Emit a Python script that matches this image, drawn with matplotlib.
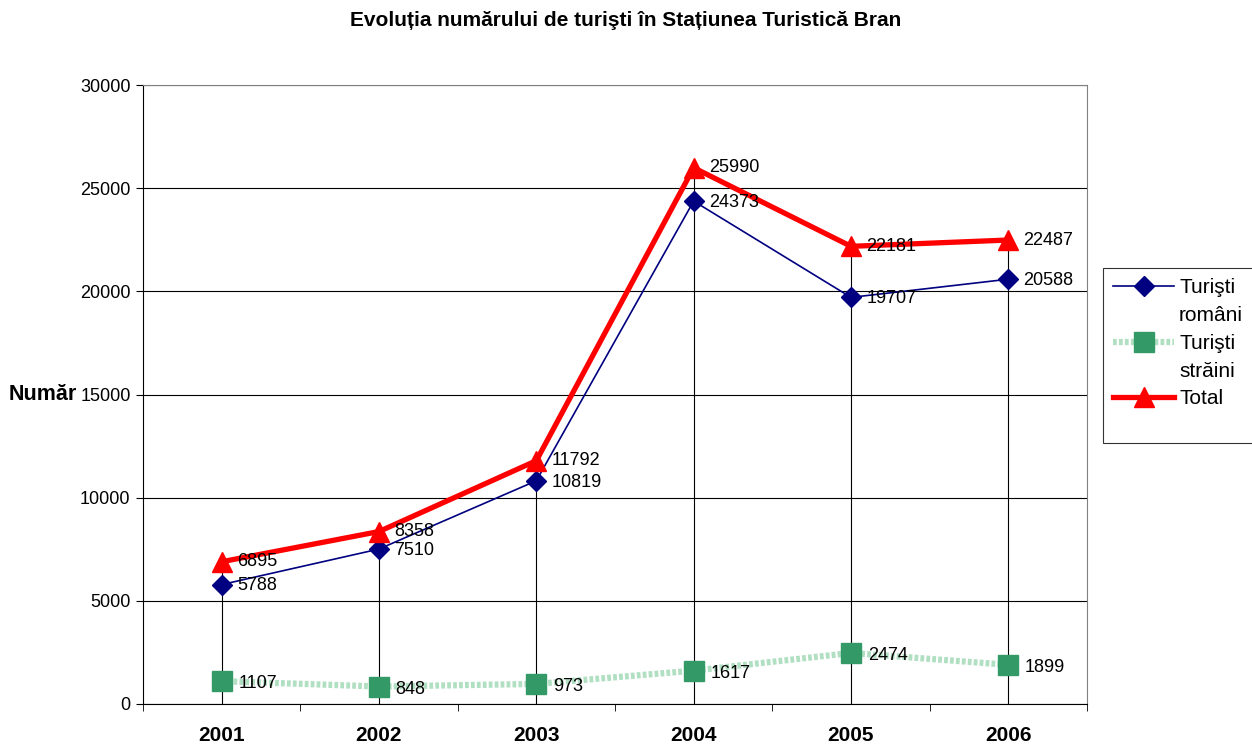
import numpy as np
import matplotlib
matplotlib.use('Agg')
from matplotlib import pyplot as plt

plt.rcParams['font.family'] = ['Liberation Sans', 'DejaVu Sans']

years = ['2001', '2002', '2003', '2004', '2005', '2006']
romani = [5788, 7510, 10819, 24373, 19707, 20588]
straini = [1107, 848, 973, 1617, 2474, 1899]
total = [6895, 8358, 11792, 25990, 22181, 22487]

fig = plt.figure(figsize=(12.52, 7.44), dpi=100)
ax = fig.add_axes([143/1252, 40/744, 944/1252, 619/744])
x = np.arange(len(years))

# drop lines
ax.vlines(x, 0, np.maximum(romani, total), color='black', lw=0.8, zorder=1)

l_str, = ax.plot(x, straini, color='#b0dfc2', lw=4.5, ls=(0, (0.6, 0.35)), marker='s', ms=15,
                 mfc='#339966', mec='#339966', zorder=3)
l_rom, = ax.plot(x, romani, color='#000080', lw=1.2, marker='D', ms=10,
                 mfc='#000080', mec='#000080', zorder=4)
l_tot, = ax.plot(x, total, color='#ff0000', lw=3.8, marker='^', ms=15,
                 mfc='#ff0000', mec='#ff0000', zorder=5)

fs_lab = 13
for xi, v in zip(x, romani):
    ax.annotate(str(v), (xi, v), xytext=(11, -1), textcoords='offset points',
                va='center', ha='left', fontsize=fs_lab, zorder=6)
for xi, v in zip(x, total):
    ax.annotate(str(v), (xi, v), xytext=(11, 0), textcoords='offset points',
                va='center', ha='left', fontsize=fs_lab, zorder=6)
for xi, v in zip(x, straini):
    ax.annotate(str(v), (xi, v), xytext=(12, -2), textcoords='offset points',
                va='center', ha='left', fontsize=fs_lab, zorder=6)

ax.set_xlim(-0.5, 5.5)
ax.set_ylim(0, 30000)
ax.set_yticks(np.arange(0, 30001, 5000))
ax.grid(axis='y', color='black', lw=0.8)
ax.set_axisbelow(True)
ax.set_xticks(x)
ax.set_xticklabels(years, fontsize=15, fontweight='bold')
ax.set_xticks(np.arange(-0.5, 5.6, 1), minor=True)
ax.tick_params(axis='x', which='major', length=0, pad=16)
ax.tick_params(axis='x', which='minor', length=5, direction='out')
ax.tick_params(axis='y', labelsize=13, length=5, direction='out', pad=4)
for s in ['top', 'right']:
    ax.spines[s].set_color('#808080')
ax.set_ylabel('Număr', rotation=0, fontsize=15.5, fontweight='bold', va='center', ha='center')
ax.yaxis.set_label_coords(-100/944, 0.5)

blank = plt.Line2D([], [], linestyle='none')
leg = fig.legend([l_rom, blank, l_str, blank, l_tot, blank],
                 ['Turişti', 'români', 'Turişti', 'străini', 'Total', ' '],
                 loc='upper left', bbox_to_anchor=(1103/1252, 476/744), borderaxespad=0,
                 fontsize=15, frameon=True, fancybox=False, edgecolor='black',
                 handlelength=2.9, handletextpad=0.25, borderpad=0.5, labelspacing=0.42)
leg.get_texts()[5].set_fontsize(4)
leg.get_frame().set_linewidth(0.8)

fig.text(0.5, 1 - 21/744, 'Evoluția numărului de turişti în Stațiunea Turistică Bran',
         ha='center', va='center', fontsize=15, fontweight='bold')

fig.savefig('out.png', dpi=100)
